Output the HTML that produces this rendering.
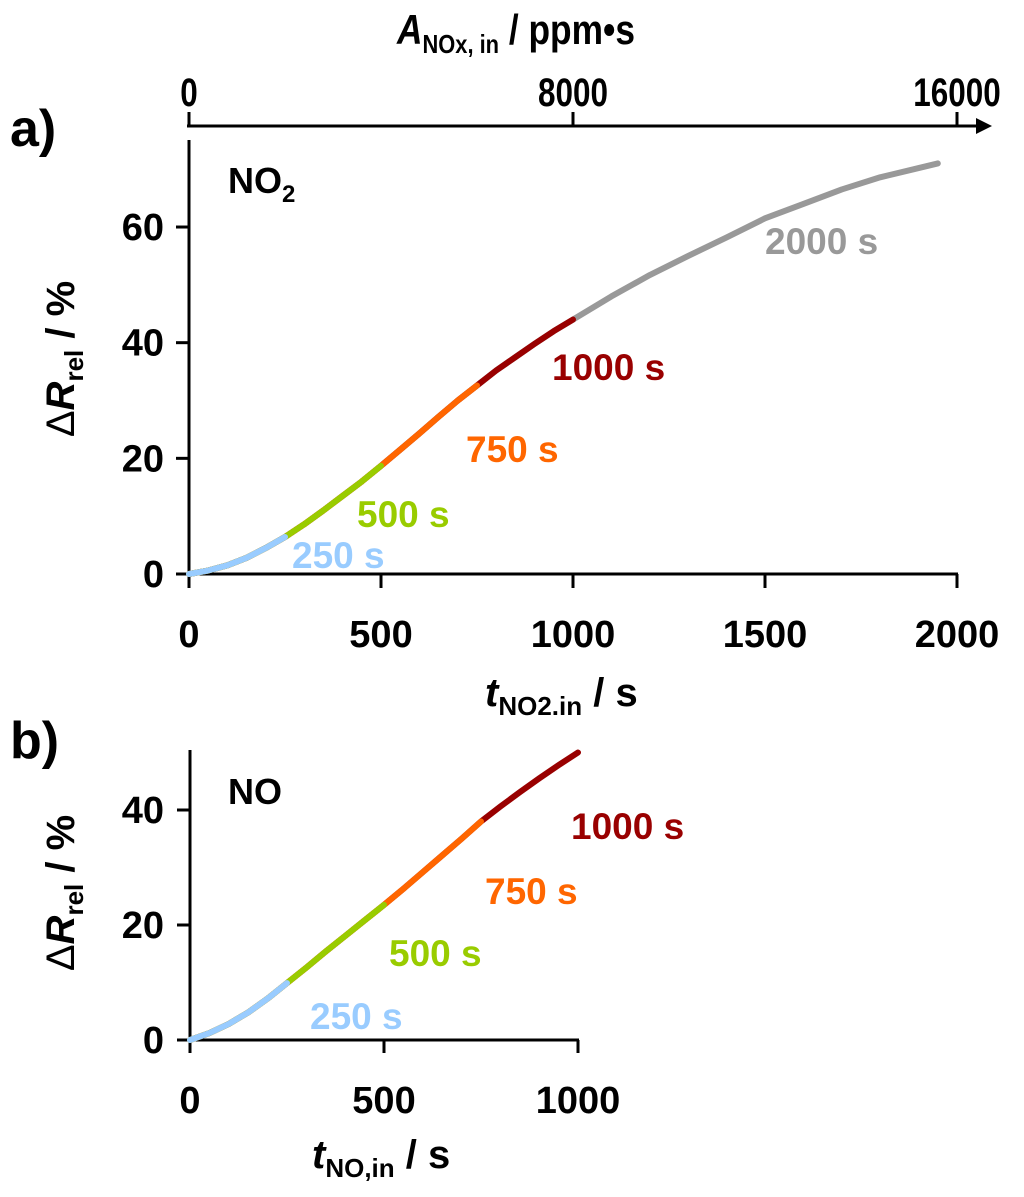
<!DOCTYPE html>
<html><head><meta charset="utf-8"><style>
body{margin:0;background:#fff}
svg{display:block;font-family:"Liberation Sans",Arial,sans-serif;font-weight:bold}
</style></head><body>
<svg id="c" width="1024" height="1197" viewBox="0 0 1024 1197">
<g id="g"></g>
</svg>
<script>
const aTimes=[0,50,100,150,200,250,300,350,400,450,500,550,600,650,700,750,800,850,900,950,1000,1100,1200,1300,1400,1500,1600,1700,1800,1900,1950];
const aValues=[0,0.6,1.5,2.8,4.5,6.4,8.6,11,13.5,16,18.7,21.5,24.3,27.2,30,32.6,35.2,37.5,39.8,42,44,48,51.7,55,58.2,61.5,64,66.5,68.6,70.2,71];
const aSeries=[{end:1950,color:"#999999",label:"2000 s",lx:765,ly:254},{end:1000,color:"#990000",label:"1000 s",lx:552,ly:380},{end:750,color:"#ff6600",label:"750 s",lx:466,ly:462},{end:500,color:"#99cc00",label:"500 s",lx:357,ly:527},{end:250,color:"#99ccff",label:"250 s",lx:292,ly:568}];
const bTimes=[0,50,100,150,200,250,300,350,400,450,500,550,600,650,700,750,800,850,900,950,1000];
const bValues=[0,1.2,2.8,4.8,7.2,9.9,12.6,15.4,18.1,20.8,23.5,26.3,29.2,32.1,35,38,40.6,43.1,45.5,47.8,50];
const bSeries=[{end:1000,color:"#990000",label:"1000 s",lx:571,ly:839},{end:750,color:"#ff6600",label:"750 s",lx:485,ly:904},{end:500,color:"#99cc00",label:"500 s",lx:389,ly:966},{end:250,color:"#99ccff",label:"250 s",lx:310,ly:1029}];
const aXTicks=[0,500,1000,1500,2000], aYTicks=[0,20,40,60], topTicks=[0,8000,16000];
const bXTicks=[0,500,1000], bYTicks=[0,20,40];
const ax=v=>189+v*0.384, ay=v=>574-v*5.783, atop=v=>189+v*0.048;
const bx=v=>190+v*0.388, by=v=>1040-v*5.75;
const NS="http://www.w3.org/2000/svg", G=document.getElementById('g');
function el(t,a,txt){const e=document.createElementNS(NS,t);for(const k in a)e.setAttribute(k,a[k]);if(txt!==undefined)e.innerHTML=txt;G.appendChild(e);return e;}
let e;
e=el('line',{x1:189,y1:140,x2:189,y2:575,stroke:'#000','stroke-width':3});

e=el('line',{x1:188,y1:574,x2:958,y2:574,stroke:'#000','stroke-width':3});

aXTicks.forEach(t=>{el('line',{x1:ax(t),y1:574,x2:ax(t),y2:588,stroke:'#000','stroke-width':3});
e=el('text',{x:ax(t),y:647,'text-anchor':'middle','font-size':38},t);});
aYTicks.forEach(t=>{el('line',{x1:176,y1:ay(t),x2:189,y2:ay(t),stroke:'#000','stroke-width':3});
e=el('text',{x:164,y:ay(t)+13,'text-anchor':'end','font-size':38},t);});
e=el('line',{x1:187,y1:126,x2:978,y2:126,stroke:'#000','stroke-width':3});

el('polygon',{points:'976,118 992,126 976,134',fill:'#000'});
topTicks.forEach(t=>{el('line',{x1:atop(t),y1:112,x2:atop(t),y2:127,stroke:'#000','stroke-width':3});
const w=String(t).length*17.5;
e=el('text',{x:atop(t),y:106,'text-anchor':'middle','font-size':40,textLength:w,lengthAdjust:'spacingAndGlyphs'},t);});
e=el('text',{x:397,y:44,'font-size':42,textLength:238,lengthAdjust:'spacingAndGlyphs'},'<tspan font-style="italic">A</tspan><tspan font-size="26" dy="9">NOx, in</tspan><tspan dy="-9"> / ppm•s</tspan>');

e=el('text',{x:10,y:146,'font-size':52},'a)');
e=el('text',{x:228,y:193,'font-size':36},'NO<tspan font-size="24" dy="9">2</tspan>');
e=el('text',{x:485,y:706,'font-size':40},'<tspan font-style="italic">t</tspan><tspan font-size="26" dy="9">NO2.in</tspan><tspan dy="-9"> / s</tspan>');
e=el('text',{transform:'translate(74,359) rotate(-90)','text-anchor':'middle','font-size':40},'<tspan font-weight="normal">Δ</tspan><tspan font-style="italic">R</tspan><tspan font-size="26" dy="9">rel</tspan><tspan dy="-9"> / %</tspan>');
e=el('line',{x1:190,y1:750,x2:190,y2:1041,stroke:'#000','stroke-width':3});
e=el('line',{x1:189,y1:1040,x2:579,y2:1040,stroke:'#000','stroke-width':3});
bXTicks.forEach(t=>{el('line',{x1:bx(t),y1:1040,x2:bx(t),y2:1053,stroke:'#000','stroke-width':3});
e=el('text',{x:bx(t),y:1113,'text-anchor':'middle','font-size':38},t);});
bYTicks.forEach(t=>{el('line',{x1:177,y1:by(t),x2:190,y2:by(t),stroke:'#000','stroke-width':3});
e=el('text',{x:164,y:by(t)+13,'text-anchor':'end','font-size':38},t);});
e=el('text',{x:10,y:758,'font-size':52},'b)');
e=el('text',{x:228,y:804,'font-size':36},'NO');
e=el('text',{x:312,y:1168,'font-size':40},'<tspan font-style="italic">t</tspan><tspan font-size="26" dy="9">NO,in</tspan><tspan dy="-9"> / s</tspan>');
e=el('text',{transform:'translate(74,893) rotate(-90)','text-anchor':'middle','font-size':40},'<tspan font-weight="normal">Δ</tspan><tspan font-style="italic">R</tspan><tspan font-size="26" dy="9">rel</tspan><tspan dy="-9"> / %</tspan>');
function draw(times,vals,series,fx,fy,prefix){
  series.forEach(s=>{
    const pts=[];times.forEach((t,i)=>{if(t<=s.end)pts.push(fx(t)+','+fy(vals[i]));});
    const p=el('polyline',{points:pts.join(' '),fill:'none',stroke:s.color,'stroke-width':6,'stroke-linecap':'round','stroke-linejoin':'round'});
    
    
    const l=el('text',{x:s.lx,y:s.ly,fill:s.color,'font-size':37},s.label);
    
    
  });
}
draw(aTimes,aValues,aSeries,ax,ay,'a');
draw(bTimes,bValues,bSeries,bx,by,'b');
</script>
</body></html>
